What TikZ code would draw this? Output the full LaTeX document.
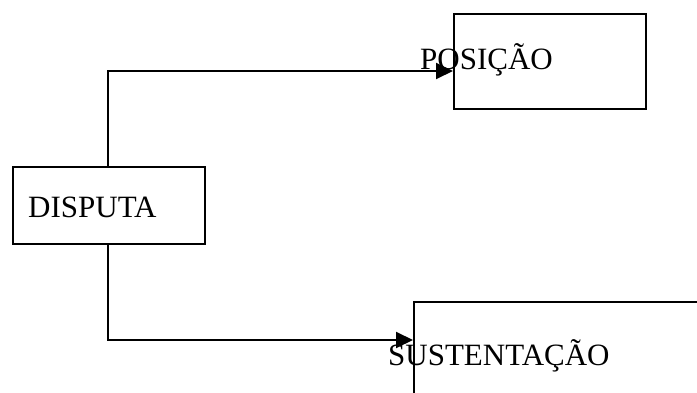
\documentclass[tikz,border=0pt]{standalone}
\usepackage{fontspec}
\setmainfont{Liberation Serif}
\usetikzlibrary{arrows.meta}
\begin{document}
\begin{tikzpicture}[x=1pt,y=-1pt,
  boxstyle/.style={draw=black,line width=2pt,rectangle,inner sep=0pt,anchor=north west},
  lbl/.style={font=\fontsize{31}{36}\selectfont,inner sep=0pt,anchor=base west},
  conn/.style={draw=black,line width=2pt,-{Triangle[length=17pt,width=16pt]}}]
\clip (0,0) rectangle (697,393);
\fill[white] (0,0) rectangle (697,393);
\node[lbl] (postxt) at (420,70) {POSIÇÃO};
\node[lbl] (sustxt) at (388,365) {SUSTENTAÇÃO};
\node[boxstyle,minimum width=192pt,minimum height=77pt] (disp) at (12,166) {};
\node[lbl] (disptxt) at (28,218) {DISPUTA};
\node[boxstyle,minimum width=192pt,minimum height=95pt] (pos) at (453,13) {};
\node[boxstyle,minimum width=320pt,minimum height=130pt] (sus) at (413,301) {};
\coordinate (posin) at ([yshift=-9.5pt]pos.west);
\coordinate (susin) at ([yshift=-39pt]sus.north west);
\draw[conn] ([xshift=-1pt]disp.north) |- (posin);
\draw[conn] ([xshift=-1pt]disp.south) |- (susin);
\end{tikzpicture}
\end{document}
